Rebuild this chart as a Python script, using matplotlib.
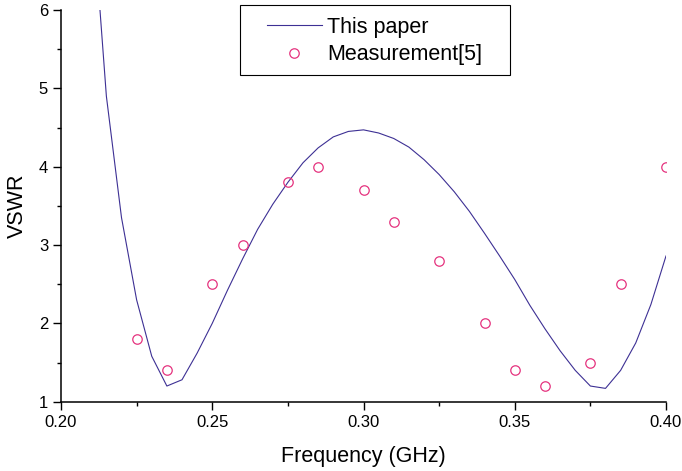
import matplotlib

matplotlib.use("Agg")

import matplotlib.pyplot as plt
from matplotlib.patches import Rectangle
from matplotlib.ticker import MultipleLocator

plt.rcParams["font.family"] = ["Liberation Sans", "DejaVu Sans"]

# simulated curve ("This paper"), sampled every 0.005 GHz
freq_sim = [0.210, 0.215, 0.220, 0.225, 0.230, 0.235, 0.240, 0.245, 0.250,
            0.255, 0.260, 0.265, 0.270, 0.275, 0.280, 0.285, 0.290, 0.295,
            0.300, 0.305, 0.310, 0.315, 0.320, 0.325, 0.330, 0.335, 0.340,
            0.345, 0.350, 0.355, 0.360, 0.365, 0.370, 0.375, 0.380, 0.385,
            0.390, 0.395, 0.400]
vswr_sim = [7.5, 4.9, 3.35, 2.3, 1.58, 1.2, 1.28, 1.62, 2.0,
            2.42, 2.82, 3.2, 3.52, 3.8, 4.05, 4.24, 4.38, 4.45,
            4.47, 4.43, 4.36, 4.25, 4.09, 3.9, 3.68, 3.43, 3.15,
            2.86, 2.56, 2.23, 1.93, 1.65, 1.4, 1.2, 1.17, 1.4,
            1.75, 2.24, 2.86]

# measured points (Measurement[5])
freq_meas = [0.225, 0.235, 0.250, 0.260, 0.275, 0.285, 0.300, 0.310,
             0.325, 0.340, 0.350, 0.360, 0.375, 0.385, 0.400]
vswr_meas = [1.8, 1.4, 2.5, 3.0, 3.8, 4.0, 3.7, 3.3,
             2.8, 2.0, 1.4, 1.2, 1.5, 2.5, 4.0]

W, H = 682, 471
fig = plt.figure(figsize=(W / 100, H / 100), dpi=100)
ax = fig.add_axes([61 / W, 1 - 401.7 / H, (666 - 61) / W, (401.7 - 10) / H])

line, = ax.plot(freq_sim, vswr_sim, color="#3d3094", lw=0.8, label="This paper")
pts, = ax.plot(freq_meas, vswr_meas, ls="none", marker="o", ms=6.8,
               mfc="none", mec="#e5337f", mew=0.9, label="Measurement[5]")

ax.set_xlim(0.20, 0.40)
ax.set_ylim(1, 6)
ax.xaxis.set_major_locator(MultipleLocator(0.05))
ax.xaxis.set_minor_locator(MultipleLocator(0.025))
ax.yaxis.set_major_locator(MultipleLocator(1))
ax.yaxis.set_minor_locator(MultipleLocator(0.5))
ax.set_xticklabels([f"{v:.2f}" for v in ax.get_xticks()])

for s in ("top", "right"):
    ax.spines[s].set_visible(False)
for s in ("left", "bottom"):
    ax.spines[s].set_linewidth(1.1)
ax.tick_params(which="major", direction="out", length=5.8, width=1.0, labelsize=12)
ax.tick_params(which="minor", direction="out", length=3.0, width=1.0)

ax.set_xlabel("Frequency (GHz)", fontsize=15.5, labelpad=12)
ax.set_ylabel("VSWR", fontsize=15.5, labelpad=8)

leg = ax.legend(handles=[line, pts], loc="upper left",
                bbox_to_anchor=(267 / W, 1 - 17 / H), bbox_transform=fig.transFigure,
                frameon=False, fontsize=15.5, borderpad=0, borderaxespad=0,
                handlelength=2.55, handletextpad=0.25, labelspacing=0.3,
                numpoints=1)

fig.patches.append(Rectangle((240 / W, 1 - 75 / H), 270 / W, 70 / H,
                             transform=fig.transFigure, fill=False,
                             edgecolor="black", lw=0.8))

fig.savefig("out.png", dpi=100)
